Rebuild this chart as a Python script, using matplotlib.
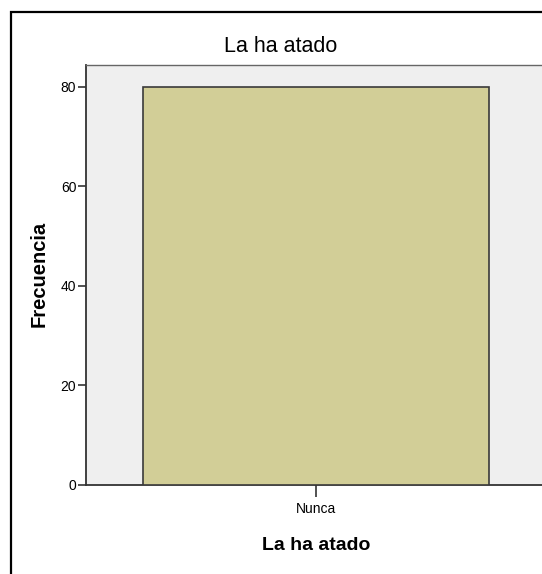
import matplotlib
matplotlib.use("Agg")
import matplotlib.pyplot as plt
from matplotlib.patches import Rectangle

categories = ["Nunca"]
values = [80]
yticks = [0, 20, 40, 60, 80]
title = "La ha atado"
xlabel = "La ha atado"
ylabel = "Frecuencia"

W, H = 542, 574
fig = plt.figure(figsize=(W/100, H/100), dpi=100)
plain = ["Liberation Sans", "DejaVu Sans"]

# outer frame
fig.patches.append(Rectangle((11/W, -0.1), 1.2, 1 - 12/H + 0.1, transform=fig.transFigure,
                             fill=False, edgecolor="black", linewidth=1.6))

ax_l, ax_r, ax_t, ax_b = 86, 546, 65, 485
ax = fig.add_axes([ax_l/W, 1 - ax_b/H, (ax_r-ax_l)/W, (ax_b-ax_t)/H])
ax.set_facecolor("#EFEFEF")
ax.bar(range(len(categories)), values, width=0.754, color="#D2CE97",
       edgecolor="#3a3a3a", linewidth=1.2, zorder=3)
ax.set_xlim(-0.5, 0.5)
ax.set_ylim(0, 84.4)
ax.set_yticks(yticks)
ax.set_yticklabels([str(v) for v in yticks], fontfamily=plain, fontsize=10)
ax.set_xticks(range(len(categories)))
ax.set_xticklabels(categories, fontfamily=plain, fontsize=10)
ax.tick_params(axis="y", length=6, width=1.2, color="#333333", pad=1)
ax.tick_params(axis="x", length=8.5, width=1.2, color="#333333", pad=4)
for s in ["left", "bottom"]:
    ax.spines[s].set_color("#333333")
    ax.spines[s].set_linewidth(1.3)
ax.spines["top"].set_color("#666666")
ax.spines["top"].set_linewidth(1.0)
ax.spines["right"].set_visible(False)

fig.text(281/W, 1 - 46/H, title, ha="center", va="center", fontsize=15.5, fontfamily=plain)
fig.text(316/W, 1 - 546/H, xlabel, ha="center", va="center", fontsize=14,
         fontweight="bold", fontfamily=plain)
fig.text(39/W, 1 - 274/H, ylabel, ha="center", va="center", rotation=90, fontsize=14.5,
         fontweight="bold", fontfamily=plain)

fig.savefig("out.png", dpi=100)
